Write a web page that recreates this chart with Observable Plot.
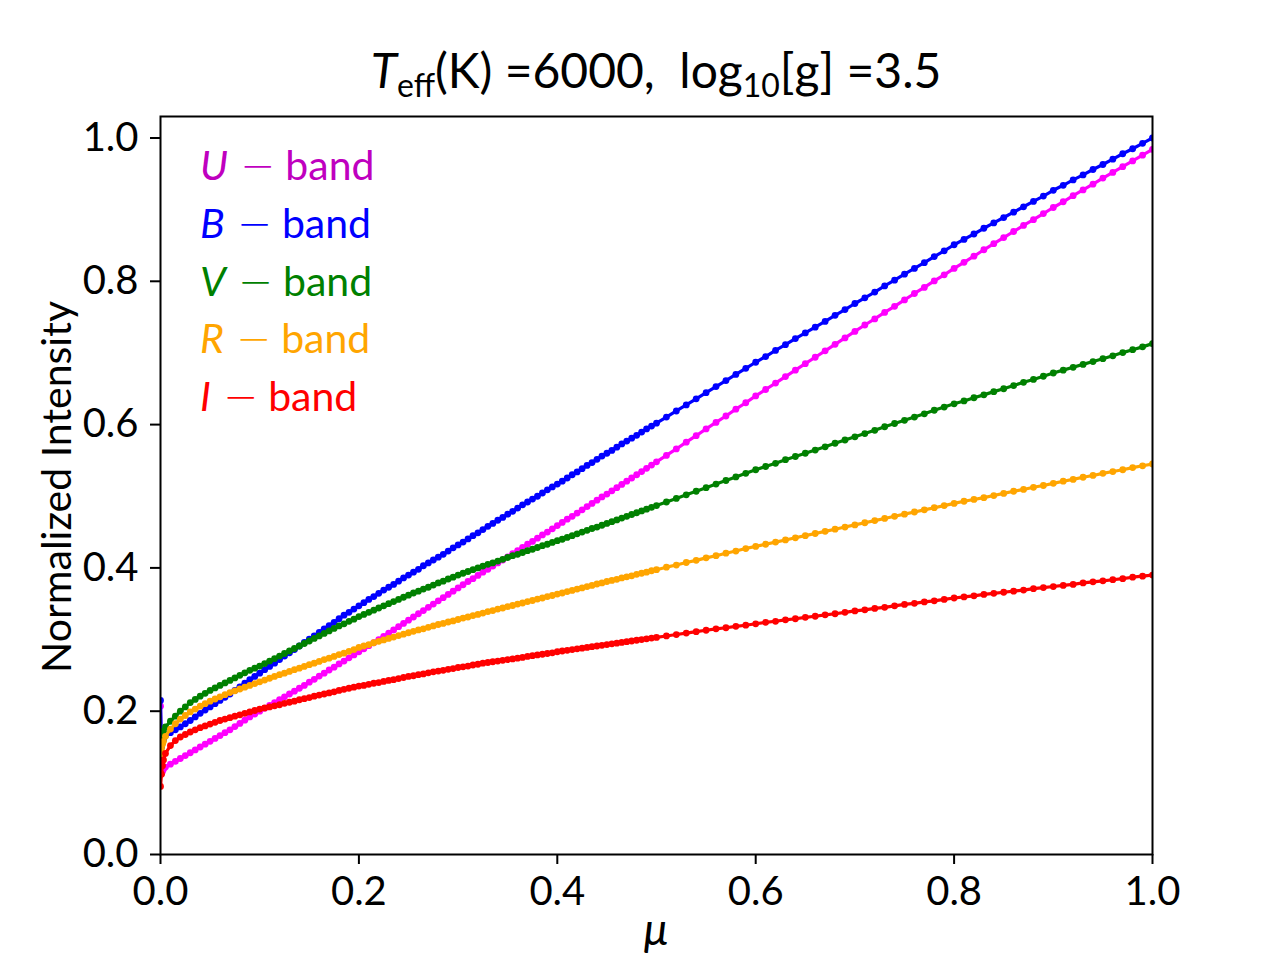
<!DOCTYPE html>
<html>
<head>
<meta charset="utf-8">
<script src="https://cdn.jsdelivr.net/npm/d3@7"></script>
<script src="https://cdn.jsdelivr.net/npm/@observablehq/plot@0.6"></script>
<style>
  html, body { margin: 0; padding: 0; background: white; }
  #chart { width: 1280px; height: 960px; }
</style>
</head>
<body>
<div id="chart"></div>
<script>
// ---------------- DATA ----------------
const mu = [
  0, 0.001, 0.002, 0.003,
  0.005,0.010,0.015,0.020,0.025,0.030,0.035,0.040,0.045,0.050,
  0.055,0.060,0.065,0.070,0.075,0.080,0.085,0.090,0.095,0.100,
  0.105,0.110,0.115,0.120,0.125,0.130,0.135,0.140,0.145,0.150,
  0.155,0.160,0.165,0.170,0.175,0.180,0.185,0.190,0.195,0.200,
  0.205,0.210,0.215,0.220,0.225,0.230,0.235,0.240,0.245,0.250,
  0.255,0.260,0.265,0.270,0.275,0.280,0.285,0.290,0.295,0.300,
  0.305,0.310,0.315,0.320,0.325,0.330,0.335,0.340,0.345,0.350,
  0.355,0.360,0.365,0.370,0.375,0.380,0.385,0.390,0.395,0.400,
  0.405,0.410,0.415,0.420,0.425,0.430,0.435,0.440,0.445,0.450,
  0.455,0.460,0.465,0.470,0.475,0.480,0.485,0.490,0.495,0.500,
  0.51,0.52,0.53,0.54,0.55,0.56,0.57,0.58,0.59,0.60,
  0.61,0.62,0.63,0.64,0.65,0.66,0.67,0.68,0.69,0.70,
  0.71,0.72,0.73,0.74,0.75,0.76,0.77,0.78,0.79,0.80,
  0.81,0.82,0.83,0.84,0.85,0.86,0.87,0.88,0.89,0.90,
  0.91,0.92,0.93,0.94,0.95,0.96,0.97,0.98,0.99,1.00
];

const uBand = [
  0.207,0.113,0.116,0.119,
  0.122,0.126,0.130,0.134,0.138,0.142,0.146,0.150,0.154,0.158,
  0.162,0.166,0.170,0.174,0.1785,0.183,0.1875,0.192,0.196,0.200,
  0.204,0.208,0.212,0.216,0.220,0.224,0.228,0.232,0.236,0.2405,
  0.2445,0.249,0.253,0.2575,0.2615,0.266,0.270,0.2745,0.2785,0.283,
  0.287,0.2915,0.2955,0.300,0.3045,0.309,0.3135,0.318,0.3225,0.327,
  0.3315,0.336,0.3405,0.345,0.3495,0.354,0.3585,0.363,0.3675,0.372,
  0.3765,0.381,0.385,0.3895,0.394,0.398,0.4025,0.407,0.411,0.4155,
  0.420,0.424,0.4285,0.433,0.437,0.4415,0.446,0.450,0.4545,0.459,
  0.4635,0.468,0.472,0.4765,0.481,0.4855,0.490,0.4945,0.499,0.503,
  0.5075,0.512,0.5165,0.521,0.5255,0.530,0.5345,0.539,0.5435,0.548,
  0.557,0.566,0.5755,0.5845,0.594,0.603,0.612,0.6215,0.6305,0.640,
  0.649,0.658,0.667,0.676,0.685,0.694,0.703,0.712,0.721,0.730,
  0.739,0.7475,0.7565,0.765,0.774,0.783,0.7915,0.8005,0.809,0.818,
  0.8265,0.835,0.844,0.8525,0.861,0.8695,0.878,0.886,0.8945,0.903,
  0.911,0.9195,0.9275,0.9355,0.944,0.952,0.960,0.968,0.976,0.984
];

const bBand = [
  0.215,0.150,0.156,0.160,
  0.166,0.170,0.174,0.178,0.1825,0.187,0.192,0.197,0.2015,0.206,
  0.2105,0.215,0.2195,0.224,0.229,0.234,0.239,0.244,0.2485,0.253,
  0.258,0.2625,0.267,0.272,0.277,0.2815,0.286,0.291,0.296,0.3005,
  0.305,0.310,0.315,0.3195,0.324,0.329,0.334,0.338,0.3425,0.347,
  0.3515,0.356,0.360,0.3645,0.369,0.373,0.377,0.3815,0.386,0.390,
  0.394,0.398,0.403,0.407,0.411,0.415,0.419,0.4235,0.428,0.432,
  0.436,0.4405,0.445,0.449,0.4535,0.458,0.462,0.4665,0.4705,0.475,
  0.479,0.4835,0.488,0.492,0.496,0.500,0.5045,0.509,0.513,0.517,
  0.521,0.5255,0.530,0.534,0.5385,0.543,0.547,0.5515,0.556,0.560,
  0.564,0.5685,0.573,0.577,0.581,0.585,0.5895,0.594,0.598,0.602,
  0.6105,0.619,0.6275,0.636,0.6445,0.653,0.6615,0.670,0.6785,0.687,
  0.695,0.7035,0.7115,0.720,0.728,0.736,0.744,0.7525,0.7605,0.769,
  0.777,0.785,0.7935,0.8015,0.810,0.818,0.826,0.8345,0.8425,0.851,
  0.8585,0.866,0.874,0.8815,0.889,0.8965,0.904,0.9115,0.919,0.927,
  0.934,0.9415,0.9485,0.956,0.963,0.9705,0.978,0.985,0.9925,1.000
];

const vBand = [
  0.160,0.163,0.168,0.172,
  0.178,0.186,0.193,0.200,0.206,0.212,0.2165,0.221,0.225,0.229,
  0.2325,0.236,0.2395,0.243,0.2465,0.250,0.2535,0.257,0.260,0.263,
  0.2665,0.270,0.2735,0.277,0.2805,0.284,0.2875,0.291,0.2945,0.298,
  0.3015,0.305,0.3085,0.312,0.3155,0.319,0.322,0.3255,0.3285,0.332,
  0.335,0.338,0.341,0.344,0.347,0.350,0.353,0.356,0.359,0.362,
  0.365,0.3675,0.3705,0.373,0.376,0.379,0.3815,0.3845,0.387,0.390,
  0.3925,0.395,0.3975,0.400,0.4025,0.405,0.407,0.4095,0.412,0.4145,
  0.417,0.419,0.4215,0.424,0.426,0.4285,0.431,0.433,0.4355,0.438,
  0.440,0.4425,0.445,0.4475,0.450,0.4525,0.455,0.457,0.4595,0.462,
  0.4645,0.467,0.4695,0.472,0.4745,0.477,0.4795,0.482,0.4845,0.487,
  0.492,0.497,0.502,0.507,0.512,0.517,0.522,0.527,0.532,0.537,
  0.5415,0.546,0.551,0.5555,0.560,0.5645,0.569,0.574,0.5785,0.583,
  0.5875,0.592,0.597,0.6015,0.606,0.6105,0.615,0.620,0.6245,0.629,
  0.633,0.6375,0.6415,0.646,0.650,0.6545,0.659,0.663,0.6675,0.672,
  0.676,0.680,0.684,0.688,0.692,0.696,0.7005,0.7045,0.7085,0.713
];

const rBand = [
  0.140,0.148,0.154,0.158,
  0.165,0.175,0.1825,0.189,0.194,0.199,0.203,0.207,0.2105,0.214,
  0.217,0.220,0.223,0.226,0.2285,0.231,0.2335,0.236,0.2385,0.241,
  0.2435,0.246,0.2485,0.251,0.253,0.2555,0.258,0.260,0.2625,0.265,
  0.267,0.2695,0.272,0.274,0.2765,0.279,0.281,0.2835,0.286,0.289,
  0.291,0.293,0.2955,0.2975,0.2995,0.3015,0.3035,0.3055,0.3075,0.3095,
  0.3115,0.3135,0.315,0.317,0.319,0.321,0.3225,0.3245,0.326,0.328,
  0.330,0.3315,0.3335,0.335,0.337,0.339,0.3405,0.3425,0.344,0.346,
  0.3475,0.3495,0.351,0.353,0.3545,0.3565,0.358,0.360,0.3615,0.3635,
  0.365,0.367,0.3685,0.3705,0.372,0.374,0.3755,0.3775,0.379,0.381,
  0.3825,0.384,0.386,0.3875,0.389,0.391,0.3925,0.394,0.396,0.3975,
  0.401,0.404,0.4075,0.4105,0.414,0.417,0.4205,0.4235,0.427,0.430,
  0.433,0.436,0.439,0.442,0.445,0.448,0.451,0.454,0.457,0.460,
  0.463,0.466,0.469,0.472,0.475,0.478,0.481,0.484,0.487,0.490,
  0.493,0.4955,0.498,0.501,0.504,0.507,0.5095,0.5125,0.515,0.518,
  0.521,0.5235,0.5265,0.529,0.532,0.5345,0.537,0.540,0.5425,0.545
];

const iBand = [
  0.095,0.112,0.124,0.132,
  0.141,0.152,0.159,0.164,0.1675,0.171,0.174,0.177,0.1795,0.182,
  0.1845,0.187,0.189,0.191,0.193,0.195,0.197,0.199,0.201,0.203,
  0.2045,0.206,0.2075,0.209,0.211,0.2125,0.214,0.216,0.2175,0.219,
  0.221,0.2225,0.224,0.2255,0.227,0.229,0.2305,0.232,0.2335,0.235,
  0.236,0.2375,0.239,0.240,0.2415,0.243,0.244,0.2455,0.247,0.2485,
  0.2495,0.251,0.252,0.2535,0.255,0.256,0.257,0.2585,0.2595,0.261,
  0.262,0.263,0.2645,0.2655,0.267,0.268,0.269,0.270,0.271,0.272,
  0.273,0.274,0.275,0.2765,0.2775,0.2785,0.2795,0.2805,0.2815,0.283,
  0.284,0.285,0.286,0.287,0.288,0.289,0.290,0.291,0.292,0.293,
  0.294,0.295,0.296,0.297,0.298,0.299,0.300,0.301,0.302,0.303,
  0.305,0.307,0.309,0.311,0.313,0.315,0.3165,0.3185,0.320,0.322,
  0.324,0.3255,0.3275,0.329,0.331,0.3325,0.3345,0.336,0.338,0.340,
  0.3415,0.3435,0.345,0.347,0.349,0.3505,0.3525,0.354,0.356,0.358,
  0.3595,0.361,0.363,0.3645,0.366,0.3675,0.369,0.371,0.3725,0.374,
  0.3755,0.377,0.379,0.3805,0.382,0.3835,0.385,0.387,0.3885,0.390
];

const bandLetters = ["U", "B", "V", "R", "I"];
const lineColors  = ["#ff00ff", "#0000ff", "#008000", "#ffa500", "#ff0000"];
const legendColors = ["#bf00bf", "#0000ff", "#008000", "#ffa500", "#ff0000"];
const xTicks = [0, 0.2, 0.4, 0.6, 0.8, 1.0];
const xTickLabels = ["0.0", "0.2", "0.4", "0.6", "0.8", "1.0"];
const yTicks = [0, 0.2, 0.4, 0.6, 0.8, 1.0];
const yTickLabels = ["0.0", "0.2", "0.4", "0.6", "0.8", "1.0"];

// ---------------- BUILD ----------------
const seriesValues = [uBand, bBand, vBand, rBand, iBand];
const FONT = "Lato, 'Open Sans', sans-serif";

const marks = [];
seriesValues.forEach((vals, s) => {
  const rows = mu.map((m, i) => ({mu: m, v: vals[i]})).filter(d => d.v != null);
  marks.push(Plot.line(rows, {x: "mu", y: "v", stroke: lineColors[s], strokeWidth: 3.2, clip: true}));
  marks.push(Plot.dot(rows, {x: "mu", y: "v", fill: lineColors[s], r: 3.4, clip: true}));
});

const svg = Plot.plot({
  width: 1280,
  height: 960,
  marginLeft: 160,
  marginRight: 128,
  marginTop: 116,
  marginBottom: 106,
  style: {fontFamily: FONT, fontSize: "40px", background: "white", color: "black", overflow: "visible"},
  x: {domain: [0, 1]},
  y: {domain: [0, 1.03]},
  marks: [
    ...marks,
    Plot.frame({stroke: "black", strokeWidth: 2}),
    Plot.axisX({ticks: xTicks, tickFormat: (d, i) => xTickLabels[i], tickSize: 10, tickPadding: 12,
                fontSize: 40, label: null, strokeWidth: 2}),
    Plot.axisY({ticks: yTicks, tickFormat: (d, i) => yTickLabels[i], tickSize: 10, tickPadding: 12,
                fontSize: 40, label: null, strokeWidth: 2})
  ]
});

document.getElementById("chart").appendChild(svg);

const root = d3.select(svg);

// Title
const title = root.append("text")
  .attr("x", 656).attr("y", 88)
  .attr("text-anchor", "middle")
  .attr("font-family", FONT)
  .attr("font-size", 48)
  .attr("fill", "black")
  .style("white-space", "pre");
title.append("tspan").attr("font-style", "italic").text("T");
title.append("tspan").attr("font-size", 32).attr("dy", 9).text("eff");
title.append("tspan").attr("dy", -9).text("(K) =6000,  log");
title.append("tspan").attr("font-size", 32).attr("dy", 9).text("10");
title.append("tspan").attr("dy", -9).text("[g] =3.5");

// Y label
root.append("text")
  .attr("transform", "translate(71,487) rotate(-90)")
  .attr("text-anchor", "middle")
  .attr("font-family", FONT)
  .attr("font-size", 41)
  .attr("fill", "black")
  .text("Normalized Intensity");

// X label
root.append("text")
  .attr("x", 656).attr("y", 945)
  .attr("text-anchor", "middle")
  .attr("font-family", FONT)
  .attr("font-size", 44)
  .attr("font-style", "italic")
  .attr("fill", "black")
  .text("μ");

// Legend
const legendBaselines = [180, 238, 296, 353, 411];
bandLetters.forEach((b, i) => {
  const t = root.append("text")
    .attr("x", 200).attr("y", legendBaselines[i])
    .attr("text-anchor", "start")
    .attr("font-family", FONT)
    .attr("font-size", 41)
    .attr("fill", legendColors[i])
    .style("white-space", "pre");
  t.append("tspan").attr("font-style", "italic").text(b);
  t.append("tspan").attr("font-family", "'DejaVu Sans', sans-serif").attr("font-size", 42).attr("font-weight", 300).attr("dx", 12).text("−");
  t.append("tspan").attr("dx", 10).text("band");
});
</script>
</body>
</html>
